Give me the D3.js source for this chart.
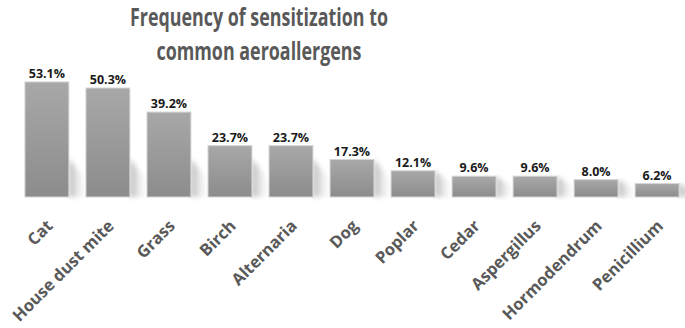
<!DOCTYPE html>
<html>
<head>
<meta charset="utf-8">
<script src="https://cdn.jsdelivr.net/npm/d3@7"></script>
<style>
  body { margin: 0; background: #fff; }
  svg { display: block; }
</style>
</head>
<body>
<div id="chart"></div>
<script>
// data
const allergens = ["Cat", "House dust mite", "Grass", "Birch", "Alternaria", "Dog",
  "Poplar", "Cedar", "Aspergillus", "Hormodendrum", "Penicillium"];
const frequency = [53.1, 50.3, 39.2, 23.7, 23.7, 17.3, 12.1, 9.6, 9.6, 8.0, 6.2];
const titleLines = ["Frequency of sensitization to", "common aeroallergens"];

const width = 685, height = 328;
const baseY = 197;

const svg = d3.select("#chart").append("svg")
  .attr("width", width)
  .attr("height", height);

const defs = svg.append("defs");
const grad = defs.append("linearGradient")
  .attr("id", "barGrad")
  .attr("x1", 0).attr("y1", 0).attr("x2", 0).attr("y2", 1);
grad.append("stop").attr("offset", "0%").attr("stop-color", "#a8a8a8");
grad.append("stop").attr("offset", "100%").attr("stop-color", "#8c8c8c");

const shGrad = defs.append("linearGradient")
  .attr("id", "shadowGrad")
  .attr("x1", 0).attr("y1", 0).attr("x2", 1).attr("y2", 0);
shGrad.append("stop").attr("offset", "0%").attr("stop-color", "#b4b4b4");
shGrad.append("stop").attr("offset", "100%").attr("stop-color", "#ffffff").attr("stop-opacity", 0);

defs.append("filter").attr("id", "blur")
  .append("feGaussianBlur").attr("stdDeviation", 2.5);

const x = d3.scaleBand()
  .domain(allergens)
  .range([16.4, 687.6])
  .paddingInner(0.28)
  .paddingOuter(0.14);

const y = d3.scaleLinear()
  .domain([0, 60])
  .range([baseY, baseY - 130]);

const data = allergens.map((name, i) => ({ name, value: frequency[i] }));

// soft shadow to the right of each bar
svg.append("g")
  .selectAll("path")
  .data(data)
  .join("path")
  .attr("fill", "url(#shadowGrad)")
  .attr("filter", "url(#blur)")
  .attr("d", d => {
    const x1 = x(d.name) + x.bandwidth();
    const h = Math.min(baseY - y(d.value), 38);
    return `M${x1},${baseY} L${x1},${baseY - h} L${x1 + 20},${baseY - h * 0.35} L${x1 + 20},${baseY} Z`;
  });

// bars
svg.append("g")
  .selectAll("rect")
  .data(data)
  .join("rect")
  .attr("x", d => x(d.name))
  .attr("y", d => y(d.value))
  .attr("width", x.bandwidth())
  .attr("height", d => baseY - y(d.value))
  .attr("fill", "url(#barGrad)")
  .attr("stroke", "#d4d4d4")
  .attr("stroke-width", 1);

// value labels
svg.append("g")
  .selectAll("text")
  .data(data)
  .join("text")
  .attr("x", d => x(d.name) + x.bandwidth() / 2)
  .attr("y", d => y(d.value) - 4)
  .attr("text-anchor", "middle")
  .attr("font-family", "Open Sans, sans-serif")
  .attr("font-weight", 700)
  .attr("font-size", 12.5)
  .attr("fill", "#1a1a1a")
  .text(d => d3.format(".1f")(d.value) + "%");

// rotated category labels
svg.append("g")
  .selectAll("text")
  .data(data)
  .join("text")
  .attr("transform", d => `translate(${x(d.name) + x.bandwidth() / 2 + 7},${227}) rotate(-45)`)
  .attr("text-anchor", "end")
  .attr("font-family", "Open Sans, sans-serif")
  .attr("font-weight", 700)
  .attr("font-size", 16.5)
  .attr("fill", "#595959")
  .text(d => d.name);

// title
svg.append("g")
  .selectAll("text")
  .data(titleLines)
  .join("text")
  .attr("x", 259)
  .attr("y", (d, i) => 26 + i * 34)
  .attr("text-anchor", "middle")
  .attr("font-family", "Open Sans, sans-serif")
  .attr("font-weight", 700)
  .attr("font-size", 25)
  .attr("fill", "#595959")
  .attr("textLength", (d, i) => i === 0 ? 258 : 205)
  .attr("lengthAdjust", "spacingAndGlyphs")
  .text(d => d);
</script>
</body>
</html>
